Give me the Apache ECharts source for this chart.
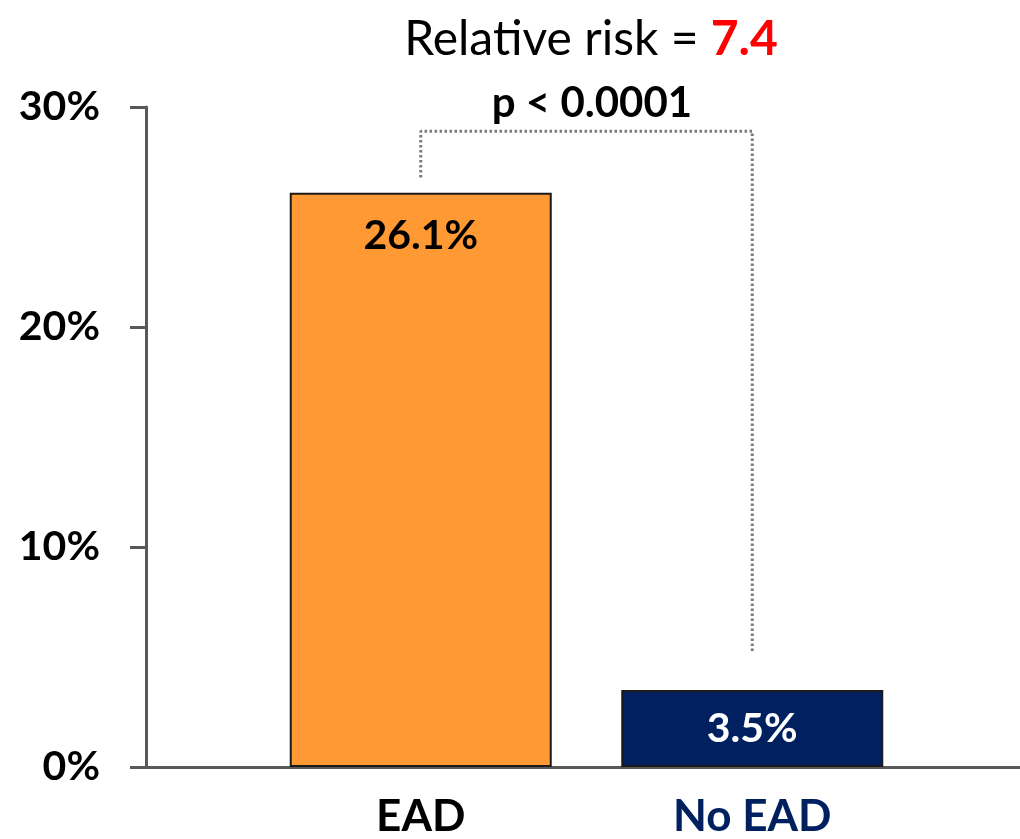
<!DOCTYPE html>
<html>
<head>
<meta charset="utf-8">
<script src="https://cdn.jsdelivr.net/npm/echarts@6/dist/echarts.min.js"></script>
<style>
  html, body { margin: 0; padding: 0; background: #ffffff; }
  #chart { width: 1020px; height: 839px; }
</style>
</head>
<body>
<div id="chart"></div>
<script>
// Incidence by group, in percent
const categories = ['EAD', 'No EAD'];
const values = [26.1, 3.5];
const barColors = ['#FF9933', '#002060'];
const labelColors = ['#000000', '#FFFFFF'];
const categoryColors = ['#000000', '#002060'];

// Y axis ticks (percent)
const yMin = 0;
const yMax = 30;
const yStep = 10;

// Significance bracket: [category, height in percent]
const bracket = [['EAD', 26.8], ['EAD', 28.9], ['No EAD', 28.9], ['No EAD', 5.2]];

const relativeRisk = '7.4';
const pText = 'p < 0.0001';

const FONT = 'Lato, "Open Sans", sans-serif';
const AXIS_COLOR = '#595959';

const chart = echarts.init(document.getElementById('chart'), null, { renderer: 'canvas' });

chart.setOption({
  animation: false,
  backgroundColor: '#ffffff',
  title: [
    {
      text: '{a|Relative risk = }{b|' + relativeRisk + '}',
      left: 586,
      top: 11,
      textAlign: 'center',
      textStyle: {
        rich: {
          a: { fontFamily: FONT, fontSize: 48, fontWeight: 'normal', color: '#000000' },
          b: { fontFamily: FONT, fontSize: 48, fontWeight: 'bold', color: '#FF0000' }
        }
      }
    },
    {
      text: pText,
      left: 587,
      top: 77,
      textAlign: 'center',
      textStyle: { fontFamily: FONT, fontSize: 42, fontWeight: 'bold', color: '#000000' }
    }
  ],
  grid: [
    { left: 146, right: 0, top: 107, bottom: 72 },
    { left: 255, right: 102, top: 107, bottom: 72 }
  ],
  xAxis: [
    {
      gridIndex: 0,
      type: 'category',
      data: [''],
      axisLine: { show: true, lineStyle: { color: AXIS_COLOR, width: 3 } },
      axisTick: { show: false },
      axisLabel: { show: false }
    },
    {
      gridIndex: 1,
      type: 'category',
      data: categories.map((c, i) => ({ value: c, textStyle: { color: categoryColors[i] } })),
      axisLine: { show: false },
      axisTick: { show: false },
      axisLabel: {
        margin: 28,
        fontFamily: FONT,
        fontSize: 44,
        fontWeight: 'bold'
      }
    }
  ],
  yAxis: [
    {
      gridIndex: 0,
      type: 'value',
      min: yMin,
      max: yMax,
      interval: yStep,
      axisLine: { show: true, lineStyle: { color: AXIS_COLOR, width: 3 } },
      axisTick: { show: true, inside: false, length: 16, lineStyle: { color: AXIS_COLOR, width: 3 } },
      splitLine: { show: false },
      axisLabel: {
        margin: 46,
        fontFamily: FONT,
        fontSize: 41,
        fontWeight: 'bold',
        color: '#000000',
        formatter: v => v + '%'
      }
    },
    {
      gridIndex: 1,
      type: 'value',
      min: yMin,
      max: yMax,
      interval: yStep,
      show: false
    }
  ],
  series: [
    {
      type: 'bar',
      xAxisIndex: 1,
      yAxisIndex: 1,
      barWidth: 262,
      data: values.map((v, i) => ({
        value: v,
        itemStyle: { color: barColors[i], borderColor: '#1a1a1a', borderWidth: 2 },
        label: i === 0
          ? { position: 'insideTop', distance: 22, color: labelColors[i] }
          : { position: 'inside', color: labelColors[i] }
      })),
      label: {
        show: true,
        fontFamily: FONT,
        fontSize: 41,
        fontWeight: 'bold',
        formatter: p => p.value + '%'
      }
    },
    {
      type: 'line',
      xAxisIndex: 1,
      yAxisIndex: 1,
      data: bracket,
      symbol: 'none',
      silent: true,
      lineStyle: { color: '#7a7a7a', width: 3, type: [2.5, 2.5] },
      z: 1
    }
  ]
});
</script>
</body>
</html>
